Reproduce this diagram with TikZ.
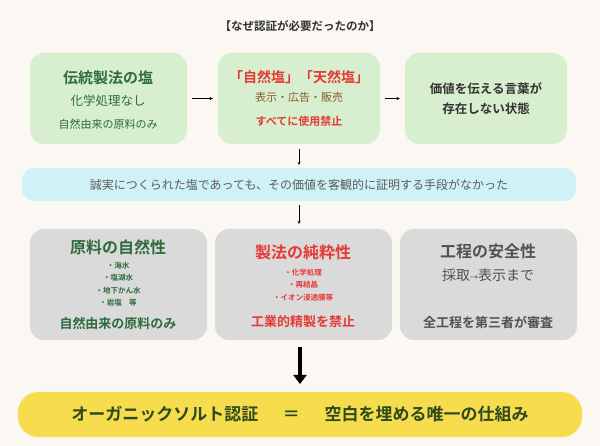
\documentclass[tikz,border=0pt]{standalone}
\usetikzlibrary{arrows.meta}
\usepackage{fontspec}
\setmainfont{Noto Sans CJK JP}
\newfontfamily\jpb{Noto Sans CJK JP Bold}
\definecolor{bg}{HTML}{FBF8F3}
\definecolor{gbox}{HTML}{D8EFCF}
\definecolor{gtxt}{HTML}{2F6B3C}
\definecolor{rtxt}{HTML}{E53935}
\definecolor{btxt}{HTML}{8A5A2E}
\definecolor{cband}{HTML}{CFF2F6}
\definecolor{grayone}{HTML}{DADADA}
\definecolor{yelbar}{HTML}{F7DC4E}
\definecolor{dtxt}{HTML}{333333}
\definecolor{ytxt}{HTML}{2D4A1F}
\begin{document}
\begin{tikzpicture}[x=1pt,y=-1pt,
 box/.style={rounded corners=14pt},
 arr/.style={-stealth,thin,black},
 t/.style={font=\jpb, inner sep=0pt}]
\fill[bg] (0,0) rectangle (600,446);
\useasboundingbox (0,0) rectangle (600,446);
\node[t,font=\jpb\fontsize{11.5}{13}\selectfont,text=dtxt] (title) at (300,26) {【なぜ認証が必要だったのか】};
% top row
\fill[gbox,box] (30,53) rectangle (187,144); \node (b1) at (108.5,98.5) [minimum width=157pt,minimum height=91pt] {};
\fill[gbox,box] (218,53) rectangle (380,144); \node (b2) at (299,98.5) [minimum width=162pt,minimum height=91pt] {};
\fill[gbox,box] (405,53) rectangle (567,144); \node (b3) at (486,98.5) [minimum width=162pt,minimum height=91pt] {};
\node[t,text=gtxt,font=\jpb\fontsize{15}{17}\selectfont] (b1a) at (108,78) {伝統製法の塩};
\node[t,text=gtxt,font=\fontsize{12.5}{14}\selectfont] (b1b) at (108,101) {化学処理なし};
\node[t,text=gtxt,font=\fontsize{11}{13}\selectfont] (b1c) at (108,124) {自然由来の原料のみ};
\node[t,text=rtxt,font=\jpb\fontsize{14}{16}\selectfont] (b2a) at (299,77) {「自然塩」「天然塩」};
\node[t,text=btxt,font=\fontsize{11}{13}\selectfont] (b2b) at (299,97) {表示・広告・販売};
\node[t,text=rtxt,font=\jpb\fontsize{11}{13}\selectfont] (b2c) at (299,121) {すべてに使用禁止};
\node[t,text=dtxt,font=\jpb\fontsize{12.5}{20}\selectfont,align=center] (b3a) at (486,99) {価値を伝える言葉が\\存在しない状態};
\draw[arr] (b1.east) ++(5,0) -- ([xshift=-5pt]b2.west);
\draw[arr] ([xshift=5pt]b2.east) -- ([xshift=-5pt]b3.west);
% band
\fill[cband,rounded corners=12pt] (22,168) rectangle (576,201);
\node (band) at (299,184.5) [minimum width=554pt,minimum height=33pt] {};
\node[t,text=dtxt!80,font=\fontsize{12}{14}\selectfont] (bandt) at (299,185) {誠実につくられた塩であっても、その価値を客観的に証明する手段がなかった};
\draw[arr] (299,149) -- (299,165);
% gray row
\fill[grayone,box] (30,229) rectangle (207,340); \node (g1) at (118.5,284.5) [minimum width=177pt,minimum height=111pt] {};
\fill[grayone,box] (215,229) rectangle (392,340); \node (g2) at (303.5,284.5) [minimum width=177pt,minimum height=111pt] {};
\fill[grayone,box] (400,229) rectangle (577,340); \node (g3) at (488.5,284.5) [minimum width=177pt,minimum height=111pt] {};
\draw[arr] (299,205) -- (299,224);
\node[t,text=gtxt,font=\jpb\fontsize{16}{18}\selectfont] (g1a) at (118,247) {原料の自然性};
\node[t,text=gtxt,font=\jpb\fontsize{7.5}{12.5}\selectfont,align=center] (g1b) at (118,284) {・海水\\・塩湖水\\・地下かん水\\・岩塩\quad 等};
\node[t,text=gtxt,font=\jpb\fontsize{13}{15}\selectfont] (g1c) at (118,324) {自然由来の原料のみ};
\node[t,text=rtxt,font=\jpb\fontsize{16}{18}\selectfont] (g2a) at (303,252) {製法の純粋性};
\node[t,text=rtxt,font=\jpb\fontsize{7.5}{12.5}\selectfont,align=center] (g2b) at (303,285) {・化学処理\\・再結晶\\・イオン浸透膜等};
\node[t,text=rtxt,font=\jpb\fontsize{13}{15}\selectfont] (g2c) at (303,322) {工業的精製を禁止};
\node[t,text=dtxt!85,font=\jpb\fontsize{16}{18}\selectfont] (g3a) at (488,251) {工程の安全性};
\node[t,text=dtxt!85,font=\fontsize{14}{16}\selectfont] (g3b) at (488,275) {採取{\fontsize{8}{9}\selectfont →}表示まで};
\node[t,text=dtxt!85,font=\jpb\fontsize{13}{15}\selectfont] (g3c) at (488,322) {全工程を第三者が審査};
% big arrow
\node (yb) at (300,414) [minimum width=564pt,minimum height=45pt] {};
\draw[line width=3.5pt,-{Triangle[width=13pt,length=9pt]}] (300,347) -- (300,384);
\fill[yelbar,rounded corners=20pt] (18,392) rectangle (582,437);
\node[t,text=ytxt,font=\jpb\fontsize{17}{19}\selectfont] (yt) at (300,414) {オーガニックソルト認証\quad\ \ ＝\quad\ \ 空白を埋める唯一の仕組み};
\end{tikzpicture}
\end{document}
